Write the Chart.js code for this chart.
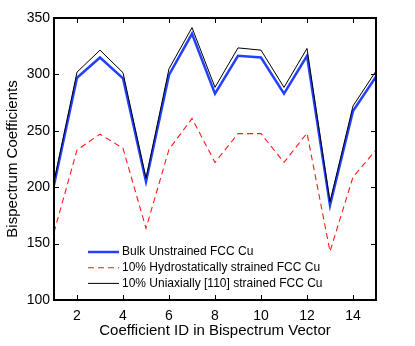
<!DOCTYPE html>
<html>
<head>
<meta charset="utf-8">
<script src="https://cdn.jsdelivr.net/npm/chart.js@4/dist/chart.umd.min.js"></script>
<style>
html, body { margin: 0; padding: 0; background: #fff; }
</style>
</head>
<body>
<canvas id="graphCanvas" width="415" height="346"></canvas>
<script>
// values
var coeffId = [1, 2, 3, 4, 5, 6, 7, 8, 9, 10, 11, 12, 13, 14, 15];
var bulk = [202, 297, 315, 296.5, 205, 299.5, 336, 283, 316.5, 315, 283, 316.5, 184, 267.5, 298];
var hydro = [160, 233, 247, 234.5, 163.5, 233.5, 261, 222, 247.5, 247.5, 222, 248, 143, 209, 233];
var uniax = [205, 302, 321.5, 301.5, 208, 305, 341.5, 288.5, 323.5, 321.5, 288.5, 323, 187, 272, 303];
var xTicks = [2, 4, 6, 8, 10, 12, 14];
var yTicks = [100, 150, 200, 250, 300, 350];

var FONT = '"Liberation Sans", Arial, Helvetica, sans-serif';

function pts(vals) {
    var out = [];
    for (var i in vals) {
        out.push({x: coeffId[i], y: vals[i]});
    }
    return out;
}

// matlab style box with inner ticks on all four sides
var boxPlugin = {
    id: 'boxPlugin',
    afterDatasetsDraw: function(chart) {
        var ctx = chart.ctx;
        var a = chart.chartArea;
        var xs = chart.scales.x, ys = chart.scales.y;
        var len = 5;
        ctx.save();
        ctx.strokeStyle = '#000';
        ctx.lineWidth = 1;
        ctx.beginPath();
        xTicks.forEach(function(v) {
            var px = Math.round(xs.getPixelForValue(v)) + 0.5;
            ctx.moveTo(px, a.bottom); ctx.lineTo(px, a.bottom - len);
            ctx.moveTo(px, a.top); ctx.lineTo(px, a.top + len);
        });
        yTicks.forEach(function(v) {
            var py = Math.round(ys.getPixelForValue(v)) + 0.5;
            ctx.moveTo(a.left, py); ctx.lineTo(a.left + len, py);
            ctx.moveTo(a.right, py); ctx.lineTo(a.right - len, py);
        });
        ctx.stroke();
        ctx.lineWidth = 2;
        ctx.strokeRect(a.left, a.top, a.right - a.left, a.bottom - a.top);
        ctx.restore();
    }
};

// legend inside the axes, lower left, no box
var legendPlugin = {
    id: 'legendPlugin',
    afterDraw: function(chart) {
        var ctx = chart.ctx;
        var a = chart.chartArea;
        var x0 = a.left + 34, x1 = a.left + 65, tx = a.left + 68;
        var y = a.bottom - 48;
        ctx.save();
        ctx.font = '12px ' + FONT;
        ctx.textBaseline = 'middle';
        ctx.textAlign = 'left';
        chart.data.datasets.forEach(function(ds) {
            ctx.strokeStyle = ds.borderColor;
            ctx.lineWidth = ds.borderWidth;
            ctx.setLineDash(ds.borderDash || []);
            ctx.beginPath();
            ctx.moveTo(x0, y);
            ctx.lineTo(x1, y);
            ctx.stroke();
            ctx.setLineDash([]);
            ctx.fillStyle = '#000';
            ctx.fillText(ds.label, tx, y);
            y += 15.7;
        });
        ctx.restore();
    }
};

var chartdata = {
    datasets: [{
        label: 'Bulk Unstrained FCC Cu',
        borderColor: '#2440ff',
        backgroundColor: '#2440ff',
        borderWidth: 2.5,
        fill: false,
        order: 2,
        data: pts(bulk)
    }, {
        label: '10% Hydrostatically strained FCC Cu',
        borderColor: '#ff1a1a',
        backgroundColor: '#ff1a1a',
        borderWidth: 1.1,
        borderDash: [6, 4],
        fill: false,
        order: 1,
        data: pts(hydro)
    }, {
        label: '10% Uniaxially [110] strained FCC Cu',
        borderColor: '#000000',
        backgroundColor: '#000000',
        borderWidth: 1,
        fill: false,
        order: 0,
        data: pts(uniax)
    }]
};

var graphTarget = document.getElementById('graphCanvas');

var lineGraph = new Chart(graphTarget, {
    type: 'line',
    data: chartdata,
    plugins: [boxPlugin, legendPlugin],
    options: {
        responsive: false,
        animation: false,
        layout: { padding: { top: 18, right: 39, left: 0, bottom: 0 } },
        elements: {
            point: { radius: 0 },
            line: { tension: 0 }
        },
        plugins: {
            legend: { display: false },
            tooltip: { enabled: false }
        },
        scales: {
            x: {
                type: 'linear',
                min: 1,
                max: 15,
                afterBuildTicks: function(s) {
                    s.ticks = xTicks.map(function(v) { return {value: v}; });
                },
                afterFit: function(s) { s.height = 46; },
                grid: { display: false, drawTicks: false },
                border: { display: false },
                ticks: {
                    color: '#000',
                    padding: 8,
                    maxRotation: 0,
                    font: { family: FONT, size: 14 }
                },
                title: {
                    display: true,
                    text: 'Coefficient ID in Bispectrum Vector',
                    color: '#000',
                    padding: { top: 0, bottom: 6 },
                    font: { family: FONT, size: 15 }
                }
            },
            y: {
                min: 100,
                max: 350,
                afterBuildTicks: function(s) {
                    s.ticks = yTicks.map(function(v) { return {value: v}; });
                },
                afterFit: function(s) { s.width = 54; },
                grid: { display: false, drawTicks: false },
                border: { display: false },
                ticks: {
                    color: '#000',
                    padding: 4,
                    font: { family: FONT, size: 14 }
                },
                title: {
                    display: true,
                    text: 'Bispectrum Coefficients',
                    color: '#000',
                    padding: { top: 4, bottom: 0 },
                    font: { family: FONT, size: 15 }
                }
            }
        }
    }
});
</script>
</body>
</html>
